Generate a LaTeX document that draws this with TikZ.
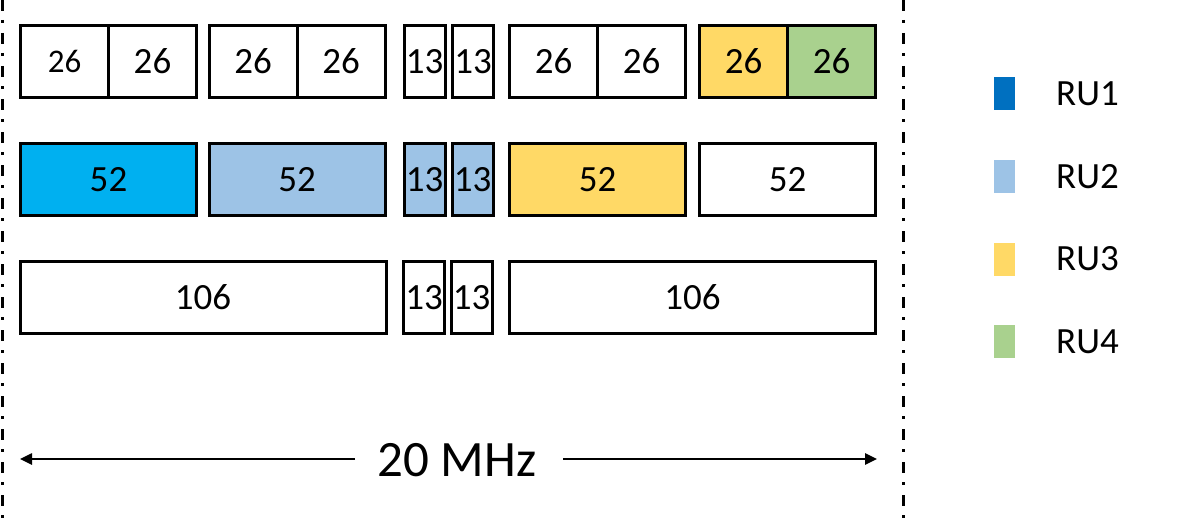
\documentclass[tikz,border=0pt]{standalone}
\usepackage{fontspec}
\setmainfont{Carlito}
\usetikzlibrary{arrows.meta}

\definecolor{ruone}{HTML}{0070C0}
\definecolor{ruonebox}{HTML}{00B0F0}
\definecolor{rutwo}{HTML}{9DC3E6}
\definecolor{ruthree}{HTML}{FFD966}
\definecolor{rufour}{HTML}{A9D18E}

\tikzstyle{ru} = [draw, line width=3pt, inner sep=0pt, minimum height=72pt, font=\fontsize{37}{42}\selectfont]
\tikzstyle{tone} = [ru, minimum width=88pt]
\tikzstyle{ttwo} = [ru, minimum width=176pt]
\tikzstyle{tfour} = [ru, minimum width=366pt]
\tikzstyle{thin} = [ru, minimum width=41pt]
\tikzstyle{key} = [minimum width=21pt, minimum height=33pt, inner sep=0pt]
\tikzstyle{keytext} = [anchor=west, inner sep=0pt, font=\fontsize{37}{42}\selectfont]
\tikzstyle{edge} = [line width=3pt, dash pattern=on 11pt off 9pt on 3pt off 10pt]

\begin{document}
\begin{tikzpicture}[x=1pt, y=-1pt]
\useasboundingbox (0,0) rectangle (1204,519);

% row of 26-tone units
\node[tone, font=\fontsize{33}{38}\selectfont] (a1) at (64.5,61.5) {26};
\node[tone] (a2) at (152.5,61.5) {26};
\node[tone] (a3) at (253,61.5) {26};
\node[tone] (a4) at (341,61.5) {26};
\node[thin] (a5) at (424.5,61.5) {13};
\node[thin] (a6) at (473,61.5) {13};
\node[tone] (a7) at (553.5,61.5) {26};
\node[tone] (a8) at (641.5,61.5) {26};
\node[tone, fill=ruthree] (a9) at (743.5,61.5) {26};
\node[tone, fill=rufour] (a10) at (831.5,61.5) {26};

% row of 52-tone units
\node[ttwo, fill=ruonebox] (b1) at (108.5,179.5) {52};
\node[ttwo, fill=rutwo] (b2) at (297,179.5) {52};
\node[thin, fill=rutwo] (b3) at (424.5,179.5) {13};
\node[thin, fill=rutwo] (b4) at (472.5,179.5) {13};
\node[ttwo, fill=ruthree] (b5) at (597.5,179.5) {52};
\node[ttwo] (b6) at (787.5,179.5) {52};

% row of 106-tone units
\node[tfour] (c1) at (203,297.5) {106};
\node[thin] (c2) at (424,297.5) {13};
\node[thin] (c3) at (471.5,297.5) {13};
\node[tfour] (c4) at (692.5,297.5) {106};

% bandwidth
\node[font=\fontsize{51}{56}\selectfont] (bw) at (457,460) {20 MHz};
\coordinate (bwla) at (355,459);
\coordinate (bwl) at (20,459);
\coordinate (bwra) at (563,459);
\coordinate (bwr) at (877,459);
\draw[line width=2.5pt, -{Triangle[length=12pt, width=11pt]}] (bwla) -- (bwl);
\draw[line width=2.5pt, -{Triangle[length=12pt, width=11pt]}] (bwra) -- (bwr);

% channel edges
\coordinate (el1) at (2,0);
\coordinate (el2) at (2,519);
\coordinate (er1) at (903,0);
\coordinate (er2) at (903,519);
\draw[edge] (el1) -- (el2);
\draw[edge] (er1) -- (er2);

% legend
\node[key, fill=ruone] (k1) at (1004.5,93.5) {};
\node[key, fill=rutwo] (k2) at (1004.5,176.5) {};
\node[key, fill=ruthree] (k3) at (1004.5,259) {};
\node[key, fill=rufour] (k4) at (1004.5,341.5) {};
\node[keytext] (l1) at (1056,93.5) {RU1};
\node[keytext] (l2) at (1056,176.5) {RU2};
\node[keytext] (l3) at (1056,259) {RU3};
\node[keytext] (l4) at (1056,341.5) {RU4};
\end{tikzpicture}
\end{document}
